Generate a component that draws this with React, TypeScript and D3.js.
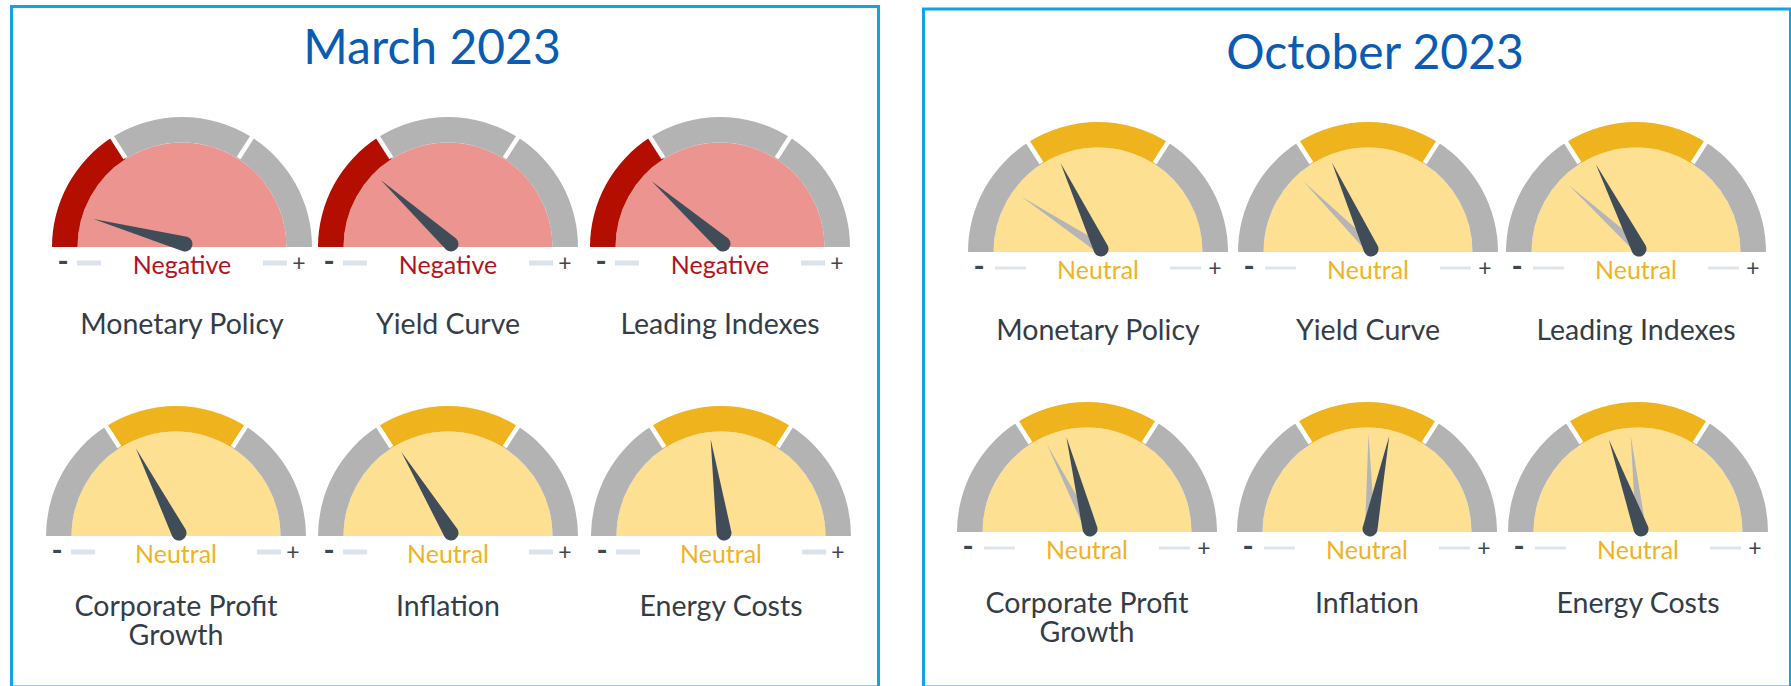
import React from "react";
import * as d3 from "d3";

// two snapshots of the same six indicators
const periods = ["March 2023", "October 2023"];
const indicators = [
  "Monetary Policy",
  "Yield Curve",
  "Leading Indexes",
  "Corporate Profit Growth",
  "Inflation",
  "Energy Costs",
];

// needle readings on a 0 (far negative) .. 100 (far positive) dial
const marchStatus = ["Negative", "Negative", "Negative", "Neutral", "Neutral", "Neutral"];
const marchScores = [8.5, 23.5, 23, 35, 32.5, 45.5];

const octoberStatus = ["Neutral", "Neutral", "Neutral", "Neutral", "Neutral", "Neutral"];
const octoberScores = [36, 36.5, 35, 42, 56.5, 39];
const octoberPrevious = [18.5, 25, 23.5, 35, 49.5, 46.5];

const W = 1791;
const H = 686;
const R_OUT = 130;
const R_IN = 104.5;
const SPLIT = 32.5; // zone boundary, degrees from vertical

const palette: Record<string, { band: string; fill: string; text: string }> = {
  Negative: { band: "#b30e00", fill: "#ec9590", text: "#b3121c" },
  Neutral: { band: "#efb31d", fill: "#fde092", text: "#f0b323" },
};
const GRAY = "#b3b3b3";
const NEEDLE = "#404d59";
const GHOST = "#b5b5b5";
const FONT = "Lato, 'Open Sans', sans-serif";

const panels = [
  {
    title: periods[0],
    status: marchStatus,
    scores: marchScores,
    previous: null as number[] | null,
    box: { x0: 11.5, y0: 6.5, x1: 878.5 },
    titleX: 432,
    titleY: 64,
    cols: [
      [182, 448, 720],
      [176, 448, 721],
    ],
    rows: [247, 536],
    labelDy: [87, 80],
    dash: { inner: 81, outer: 105, width: 5, color: "#dce2ea" },
  },
  {
    title: periods[1],
    status: octoberStatus,
    scores: octoberScores,
    previous: octoberPrevious,
    box: { x0: 923.5, y0: 9, x1: 1790.5 },
    titleX: 1375,
    titleY: 69,
    cols: [
      [1098, 1368, 1636],
      [1087, 1367, 1638],
    ],
    rows: [252, 532],
    labelDy: [88, 81],
    dash: { inner: 72, outer: 103, width: 3, color: "#dfe4ec" },
  },
];

const rad = (d: number) => (d * Math.PI) / 180;
const angle = d3.scaleLinear().domain([0, 100]).range([-90, 90]);

const ring = d3.arc<any>().innerRadius(R_IN).outerRadius(R_OUT);
const disc = d3
  .arc<any>()
  .innerRadius(0)
  .outerRadius(R_IN)
  .startAngle(rad(-90))
  .endAngle(rad(90));

const zones = [
  [-90, -SPLIT],
  [-SPLIT, SPLIT],
  [SPLIT, 90],
];

function Gauge({ cx, cy, status, score, prev, dash, label, labelDy }: any) {
  const col = palette[status];
  const active = status === "Negative" ? 0 : status === "Neutral" ? 1 : 2;
  const px = cx + 3;
  const py = cy - 3;
  const len = 95;
  const lines = label === "Corporate Profit Growth" ? ["Corporate Profit", "Growth"] : [label];
  return (
    <g>
      <g transform={`translate(${cx},${cy})`}>
        <path d={disc(null) as string} fill={col.fill} />
        {zones.map((z, i) => (
          <path
            key={i}
            d={ring({ startAngle: rad(z[0]), endAngle: rad(z[1]) }) as string}
            fill={i === active ? col.band : GRAY}
          />
        ))}
        {[-SPLIT, SPLIT].map((a) => (
          <line
            key={a}
            x1={Math.sin(rad(a)) * (R_IN + 1)}
            y1={-Math.cos(rad(a)) * (R_IN + 1)}
            x2={Math.sin(rad(a)) * (R_OUT + 2)}
            y2={-Math.cos(rad(a)) * (R_OUT + 2)}
            stroke="#fff"
            strokeWidth={4.5}
          />
        ))}
      </g>
      {prev != null && (
        <path
          transform={`translate(${px},${py}) rotate(${angle(prev)})`}
          d={`M-5,0 L0,${-len} L5,0 Z`}
          fill={GHOST}
        />
      )}
      <path
        transform={`translate(${px},${py}) rotate(${angle(score)})`}
        d={`M-7.5,0 L0,${-len} L7.5,0 A7.5,7.5 0 0 1 -7.5,0 Z`}
        fill={NEEDLE}
      />
      {/* scale row under the dial */}
      <g transform={`translate(${cx},${cy + 16})`}>
        <line x1={-dash.outer} x2={-dash.inner} stroke={dash.color} strokeWidth={dash.width} />
        <line x1={dash.inner} x2={dash.outer} stroke={dash.color} strokeWidth={dash.width} />
        <text x={-119} y={0} dy="0.3em" textAnchor="middle" fontSize={30} fontWeight={700} fill="#3d4852" fontFamily={FONT}>
          -
        </text>
        <text x={117} y={0} dy="0.35em" textAnchor="middle" fontSize={23} fill="#3d4852" fontFamily={FONT}>
          +
        </text>
      </g>
      <text x={cx} y={cy + 27} textAnchor="middle" fontSize={25} fill={col.text} fontFamily={FONT}>
        {status}
      </text>
      <text
        x={cx}
        y={cy + labelDy}
        textAnchor="middle"
        fontSize={28.5}
        fill="#343d47"
        fontFamily={FONT}
      >
        {lines.map((t: string, i: number) => (
          <tspan key={i} x={cx} dy={i === 0 ? 0 : 29}>
            {t}
          </tspan>
        ))}
      </text>
    </g>
  );
}

export default function App() {
  return (
    <svg
      width={W}
      height={H}
      style={{ position: "absolute", left: 0, top: 0, display: "block", background: "#fff" }}
    >
      <rect width={W} height={H} fill="#fff" />
      {panels.map((p, pi) => (
        <g key={pi}>
          <rect
            x={p.box.x0}
            y={p.box.y0}
            width={p.box.x1 - p.box.x0}
            height={687 - p.box.y0}
            fill="none"
            stroke="#0ea5e4"
            strokeWidth={3}
          />
          <text x={p.titleX} y={p.titleY} textAnchor="middle" fontSize={48} fill="#0a5cb2" fontFamily={FONT}>
            {p.title}
          </text>
          {indicators.map((name, i) => {
            const row = Math.floor(i / 3);
            const col = i % 3;
            return (
              <Gauge
                key={name}
                cx={p.cols[row][col]}
                cy={p.rows[row]}
                status={p.status[i]}
                score={p.scores[i]}
                prev={p.previous ? p.previous[i] : null}
                dash={p.dash}
                label={name}
                labelDy={p.labelDy[row]}
              />
            );
          })}
        </g>
      ))}
    </svg>
  );
}
